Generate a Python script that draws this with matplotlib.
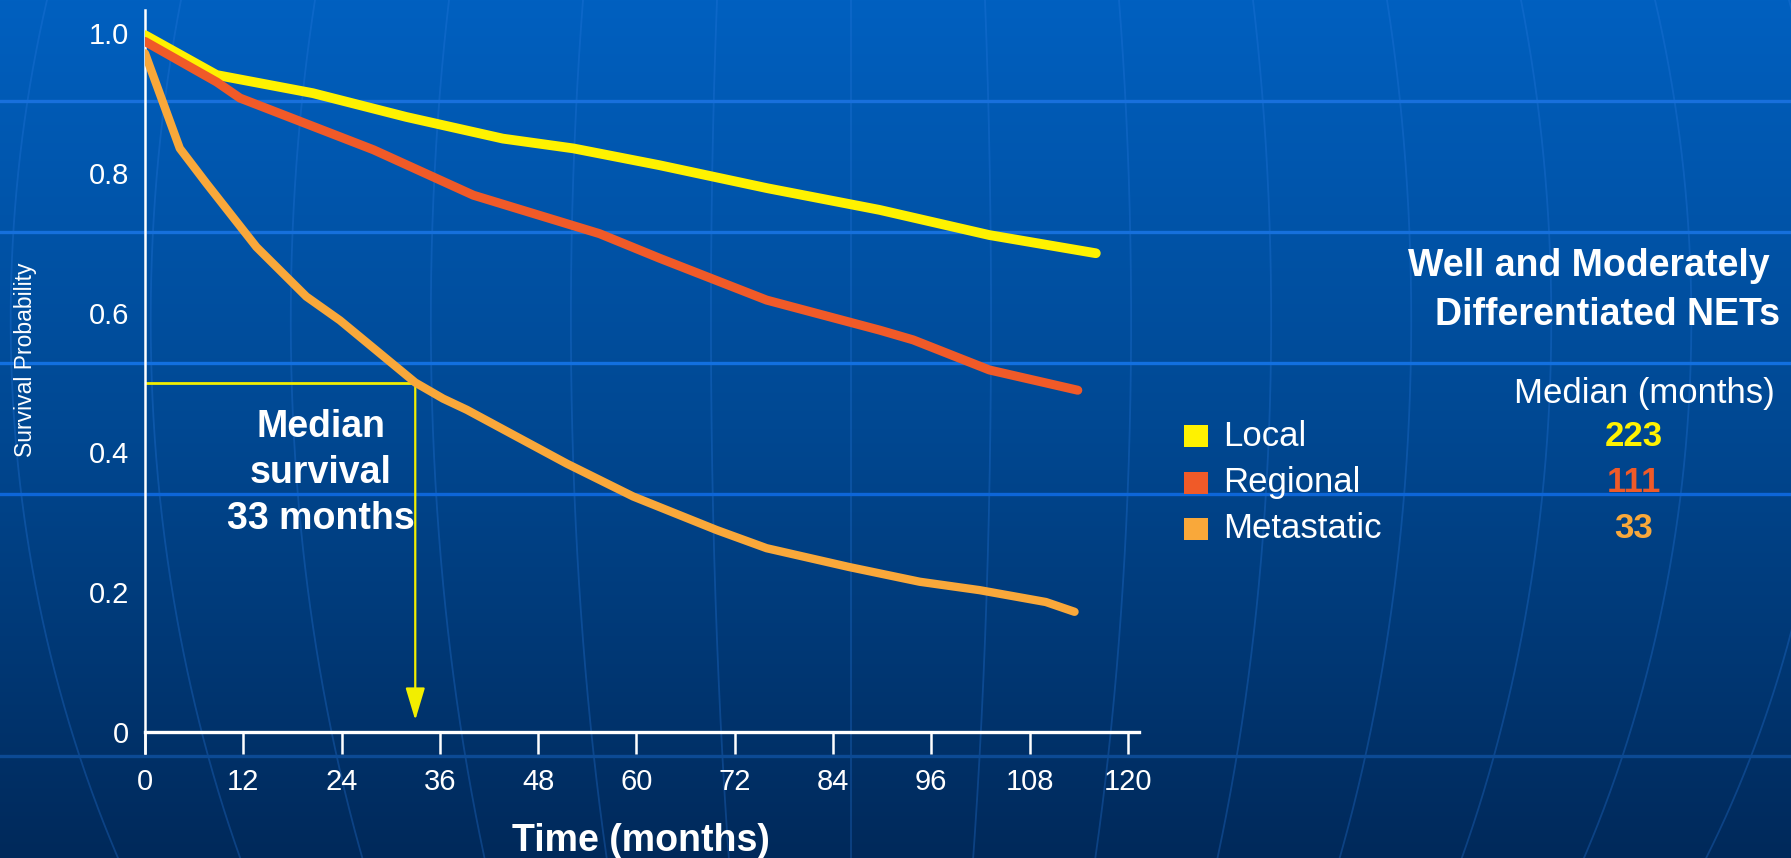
import numpy as np
import matplotlib
matplotlib.use("Agg")
import matplotlib.pyplot as plt
from matplotlib.patches import Rectangle

# survival curves (months, probability)
months_local = [0, 8.75, 20.5, 31.9, 43.7, 52.3, 62.8, 76.0, 89.7, 103.1, 116.1]
surv_local = [0.997, 0.940, 0.914, 0.880, 0.849, 0.835, 0.811, 0.778, 0.747, 0.711, 0.685]

months_regional = [0, 8.75, 11.6, 27.9, 40.1, 55.5, 62.8, 75.9, 89.7, 93.8, 103.1, 113.9]
surv_regional = [0.988, 0.930, 0.907, 0.833, 0.768, 0.713, 0.678, 0.618, 0.575, 0.561, 0.518, 0.489]

months_meta = [0, 4.25, 7.5, 13.6, 19.7, 23.8, 33.0, 36.4, 39.3, 51.5, 59.6,
               69.8, 75.9, 86.0, 94.6, 101.9, 110.0, 113.5]
surv_meta = [0.971, 0.835, 0.785, 0.694, 0.623, 0.589, 0.500, 0.477, 0.461, 0.384, 0.337,
             0.289, 0.263, 0.236, 0.215, 0.203, 0.186, 0.172]

stages = ["Local", "Regional", "Metastatic"]
median_months = [223, 111, 33]
stage_colors = ["#fff200", "#f05a28", "#f9a83a"]
line_widths = [7, 6.5, 6]

x_ticks = list(range(0, 121, 12))
y_ticks = [0, 0.2, 0.4, 0.6, 0.8, 1.0]
y_labels = ["0", "0.2", "0.4", "0.6", "0.8", "1.0"]

median_x = 33
median_y = 0.5

W, H = 1791, 858
plt.rcParams["font.family"] = ["Liberation Sans", "DejaVu Sans"]

fig = plt.figure(figsize=(W / 100, H / 100), dpi=100)

# blue slide background with globe lines
bg = fig.add_axes([0, 0, 1, 1], zorder=0)
bg.set_xlim(0, W)
bg.set_ylim(H, 0)
bg.axis("off")
stops = np.array([0.0, 0.5, 1.0])
cols = np.array([[0, 96, 192], [0, 72, 146], [0, 41, 90]]) / 255
t = np.linspace(0, 1, H)
grad = np.stack([np.interp(t, stops, cols[:, i]) for i in range(3)], axis=-1)[:, None, :]
bg.imshow(grad, extent=(0, W, H, 0), aspect="auto")

yy = np.linspace(0, H, 300)
f = np.sqrt(1 - ((yy - 320) / 1100) ** 2)
cx = 851
for k in range(-7, 8):
    x0 = cx + 134 * k
    bg.plot(cx + (x0 - cx) * f / f[0], yy, color="#2a7ae0", alpha=0.3, lw=1.3)

for y, c in [(101, "#1870dc"), (232, "#1670dc"), (363, "#1270e0"), (494, "#0d66d8"), (756, "#0c4a94")]:
    bg.axhline(y, color=c, lw=2.4)

# main chart
ax = fig.add_axes([145 / W, 1 - 753 / H, (1139 - 145) / W, (753 - 10) / H], zorder=1)
ax.set_facecolor("none")
ax.set_xlim(0, 121.37)
ax.set_ylim(-0.030, 1.033)

for m, s, c, lw in zip([months_local, months_regional, months_meta],
                       [surv_local, surv_regional, surv_meta], stage_colors, line_widths):
    ax.plot(m, s, color=c, lw=lw, solid_capstyle="round", solid_joinstyle="round", zorder=3)

ax.plot([0, median_x], [median_y, median_y], color="#f2ee00", lw=2, zorder=2)
ax.annotate("", xy=(median_x, 0.017), xytext=(median_x, median_y),
            arrowprops=dict(arrowstyle="-|>,head_length=1.0,head_width=0.3",
                            color="#f2ee00", lw=1.6, mutation_scale=20,
                            shrinkA=0, shrinkB=0), zorder=2)
ax.text(21.5, 0.371, "Median\nsurvival\n%d months" % median_x, color="white",
        fontsize=27, fontweight="bold", ha="center", va="center", linespacing=1.36)

for side in ["top", "right"]:
    ax.spines[side].set_visible(False)
ax.spines["left"].set_color("white")
ax.spines["left"].set_linewidth(1.8)
ax.spines["bottom"].set_color("white")
ax.spines["bottom"].set_linewidth(2.4)
ax.spines["bottom"].set_position(("data", 0))

ax.set_xticks(x_ticks)
ax.set_yticks(y_ticks)
ax.set_yticklabels(y_labels)
ax.tick_params(axis="x", direction="out", length=15.8, width=1.8, colors="white",
               pad=10, labelsize=21)
ax.tick_params(axis="y", length=0, pad=11.5, labelcolor="white", labelsize=21)

ax.set_xlabel("Time (months)", color="white", fontsize=27, fontweight="bold")
ax.xaxis.set_label_coords(0.499, -0.1178)
ax.xaxis.label.set_va("center")
ax.set_ylabel("Survival Probability", color="white", fontsize=16.5)
ax.yaxis.set_label_coords(-0.1207, 0.529)
ax.yaxis.label.set_va("center")

# heading, legend and median table
fig.text(1770 / W, 1 - 266 / H, "Well and Moderately", color="white", fontsize=27,
         fontweight="bold", ha="right", va="center")
fig.text(1780 / W, 1 - 315 / H, "Differentiated NETs", color="white", fontsize=27,
         fontweight="bold", ha="right", va="center")
fig.text(1775 / W, 1 - 393 / H, "Median (months)", color="white", fontsize=25,
         ha="right", va="center")

rows_y = [436, 482.5, 529]
for name, med, c, y in zip(stages, median_months, stage_colors, rows_y):
    fig.add_artist(Rectangle((1184 / W, 1 - (y + 11) / H), 24 / W, 22 / H,
                             transform=fig.transFigure, facecolor=c, edgecolor="none"))
    fig.text(1223 / W, 1 - y / H, name, color="white", fontsize=25, ha="left", va="center")
    fig.text(1634 / W, 1 - y / H, str(med), color=c, fontsize=25, fontweight="bold",
             ha="center", va="center")

fig.savefig("out.png", dpi=100)
